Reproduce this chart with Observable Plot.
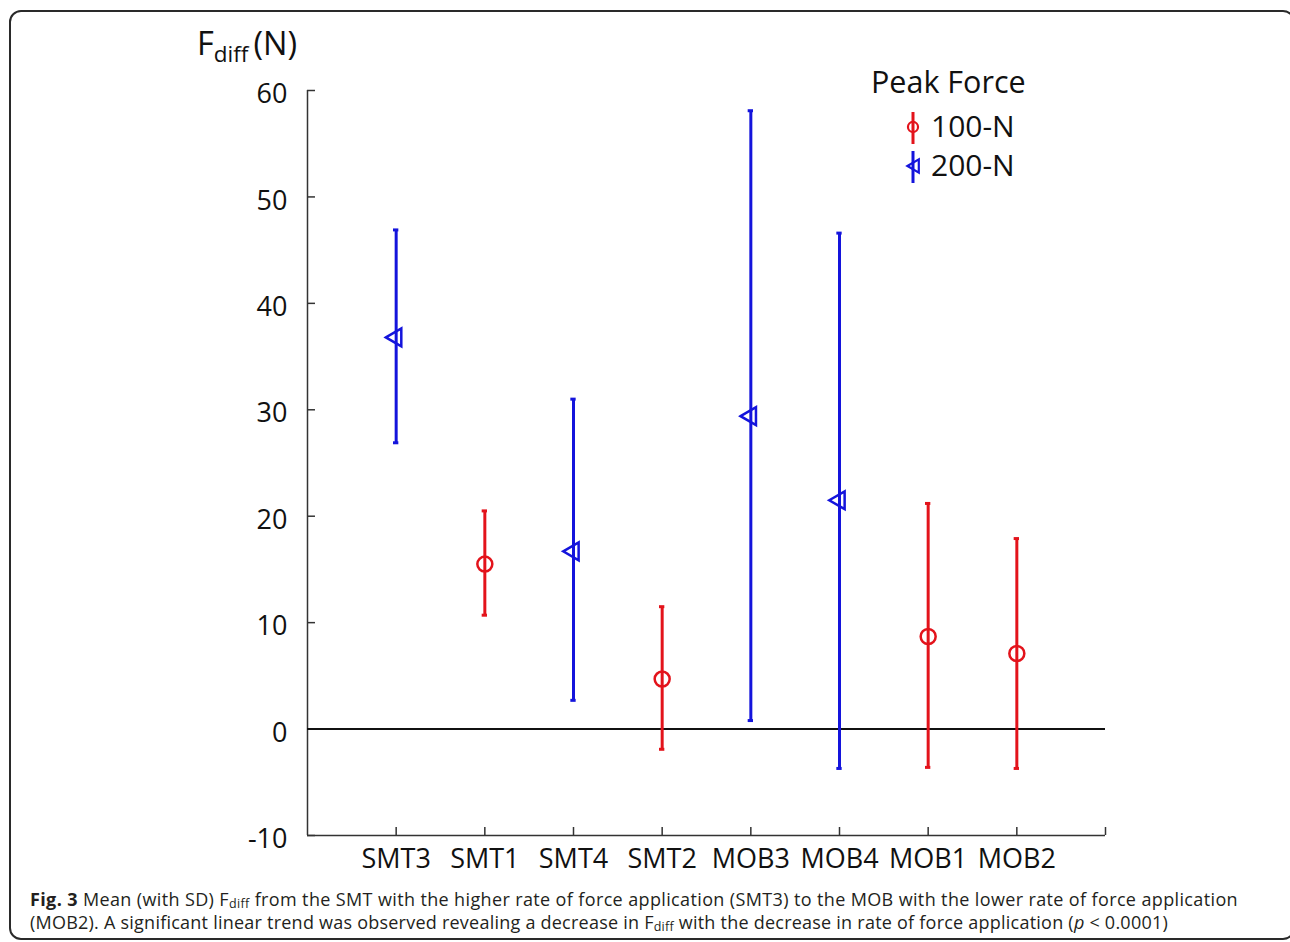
<!DOCTYPE html>
<html><head><meta charset="utf-8">
<script src="https://cdn.jsdelivr.net/npm/d3@7"></script>
<script src="https://cdn.jsdelivr.net/npm/@observablehq/plot@0.6"></script>
<style>
body{margin:0;background:#fff;}
#wrap{position:relative;width:1290px;height:942px;overflow:hidden;font-family:"Open Sans",sans-serif;background:#fff;}
#frame{position:absolute;left:9px;top:10px;width:1282px;height:926px;border:2px solid #2a2a2a;border-radius:12px;}
#chart{position:absolute;left:0;top:0;}
#cap{position:absolute;left:30px;top:888px;font-size:18px;line-height:22.5px;color:#231f20;font-family:"Open Sans",sans-serif;}
#cap div{white-space:nowrap;width:max-content;}
#cap sub{font-size:12.5px;line-height:0;vertical-align:-1.5px;}
</style></head><body>
<div id="wrap"><div id="frame"></div><div id="chart"></div><div id="cap"></div></div>
<script>
// ---- data ----
const categories = ["SMT3","SMT1","SMT4","SMT2","MOB3","MOB4","MOB1","MOB2"];
const groups     = ["200-N","100-N","200-N","100-N","200-N","200-N","100-N","100-N"];
const means      = [36.8, 15.5, 16.7, 4.7, 29.4, 21.5, 8.7, 7.1];
const lowers     = [26.9, 10.7, 2.7, -1.9, 0.8, -3.7, -3.6, -3.7];
const uppers     = [46.9, 20.5, 31.0, 11.5, 58.1, 46.6, 21.2, 17.9];
const yTicks     = [-10, 0, 10, 20, 30, 40, 50, 60];
const groupNames = ["100-N", "200-N"];
const groupColors = ["#e3131b", "#1414dc"];
const legendTitle = "Peak Force";

const rows = categories.map((c, i) => ({pos: i + 1, cat: c, group: groups[i], mean: means[i], lo: lowers[i], hi: uppers[i]}));
const xEnd = categories.length + 1;
const font = '"Open Sans", sans-serif';

const plot = Plot.plot({
  width: 1290, height: 875,
  marginLeft: 307, marginRight: 185, marginTop: 90, marginBottom: 40,
  x: {domain: [0, xEnd]},
  y: {domain: [-10, 60]},
  color: {domain: groupNames, range: groupColors},
  style: {fontFamily: font, background: "transparent", color: "#111"},
  marks: [
    Plot.axisY({ticks: yTicks, tickSize: 0, tickPadding: 20, fontSize: 27, tickFormat: d => String(d), label: null, dy: 4}),
    Plot.axisX({ticks: d3.range(1, xEnd), tickSize: 0, tickPadding: 13, fontSize: 27, tickFormat: i => categories[i - 1], label: null}),
    Plot.ruleX([0], {y1: -10, y2: 60, stroke: "#333", strokeWidth: 1.5}),
    Plot.ruleY([-10], {x1: 0, x2: xEnd, stroke: "#333", strokeWidth: 1.5}),
    Plot.ruleY(yTicks, {x1: 0, x2: 0.09, stroke: "#333", strokeWidth: 1.5}),
    Plot.ruleX(d3.range(1, xEnd + 1), {y1: -10, y2: -9.25, stroke: "#333", strokeWidth: 1.5}),
    Plot.ruleY([0], {x1: 0, x2: xEnd, stroke: "#111", strokeWidth: 2}),
    Plot.ruleX(rows, {x: "pos", y1: "lo", y2: "hi", stroke: "group", strokeWidth: 3}),
    Plot.ruleY(rows, {y: "lo", x1: d => d.pos - 0.03, x2: d => d.pos + 0.03, stroke: "group", strokeWidth: 3}),
    Plot.ruleY(rows, {y: "hi", x1: d => d.pos - 0.03, x2: d => d.pos + 0.03, stroke: "group", strokeWidth: 3}),
    Plot.dot(rows.filter(d => d.group === groupNames[0]), {x: "pos", y: "mean", r: 7.5, stroke: "group", strokeWidth: 2.5, fill: "none"}),
    Plot.dot(rows.filter(d => d.group === groupNames[1]), {x: "pos", y: "mean", symbol: "triangle", r: 6.6, rotate: -90, stroke: "group", strokeWidth: 2.5, fill: "none"})
  ]
});
document.getElementById("chart").appendChild(plot);

const svg = d3.select(plot);
// y-axis title F_diff (N)
const yt = svg.append("text").attr("x", 197).attr("y", 55).attr("font-size", 32.5).attr("fill", "#111")
  .attr("font-family", font).attr("text-anchor", "start");
yt.append("tspan").text("F");
yt.append("tspan").attr("font-size", 22.5).attr("dy", 7).text("diff");
yt.append("tspan").attr("dy", -7).attr("dx", 5).text("(N)");

// legend
svg.append("text").attr("x", 871).attr("y", 93).attr("font-size", 30.5).attr("fill", "#111")
  .attr("font-family", font).attr("text-anchor", "start").text(legendTitle);
groupNames.forEach((g, i) => {
  const cy = 127 + i * 39;
  const col = groupColors[i];
  svg.append("line").attr("x1", 913).attr("x2", 913).attr("y1", cy - 15).attr("y2", cy + 17).attr("stroke", col).attr("stroke-width", 3);
  const sym = i === 0 ? d3.symbol(d3.symbolCircle, 80) : d3.symbol(d3.symbolTriangle, 75);
  svg.append("path").attr("d", sym()).attr("transform", `translate(${i === 0 ? 913 : 915},${cy}) rotate(${i === 0 ? 0 : -90})`)
    .attr("fill", "none").attr("stroke", col).attr("stroke-width", 2.2);
  svg.append("text").attr("x", 931).attr("y", cy + 10).attr("font-size", 30).attr("fill", "#111")
    .attr("font-family", font).attr("text-anchor", "start").text(g);
});

// caption (HTML, two lines, width fitted to the reference)
const cap = document.getElementById("cap");
const line1 = document.createElement("div");
line1.innerHTML = '<b>Fig. 3</b> Mean (with SD) F<sub>diff</sub> from the SMT with the higher rate of force application (SMT3) to the MOB with the lower rate of force application';
const line2 = document.createElement("div");
line2.innerHTML = '(MOB2). A significant linear trend was observed revealing a decrease in F<sub>diff</sub> with the decrease in rate of force application (<i>p</i> &lt; 0.0001)';
cap.appendChild(line1); cap.appendChild(line2);
function fit(el, target) {
  const w = el.getBoundingClientRect().width;
  const n = el.textContent.length;
  el.style.letterSpacing = ((target - w) / n) + "px";
}
fit(line1, 1208);
fit(line2, 1138);
</script>
</body></html>
